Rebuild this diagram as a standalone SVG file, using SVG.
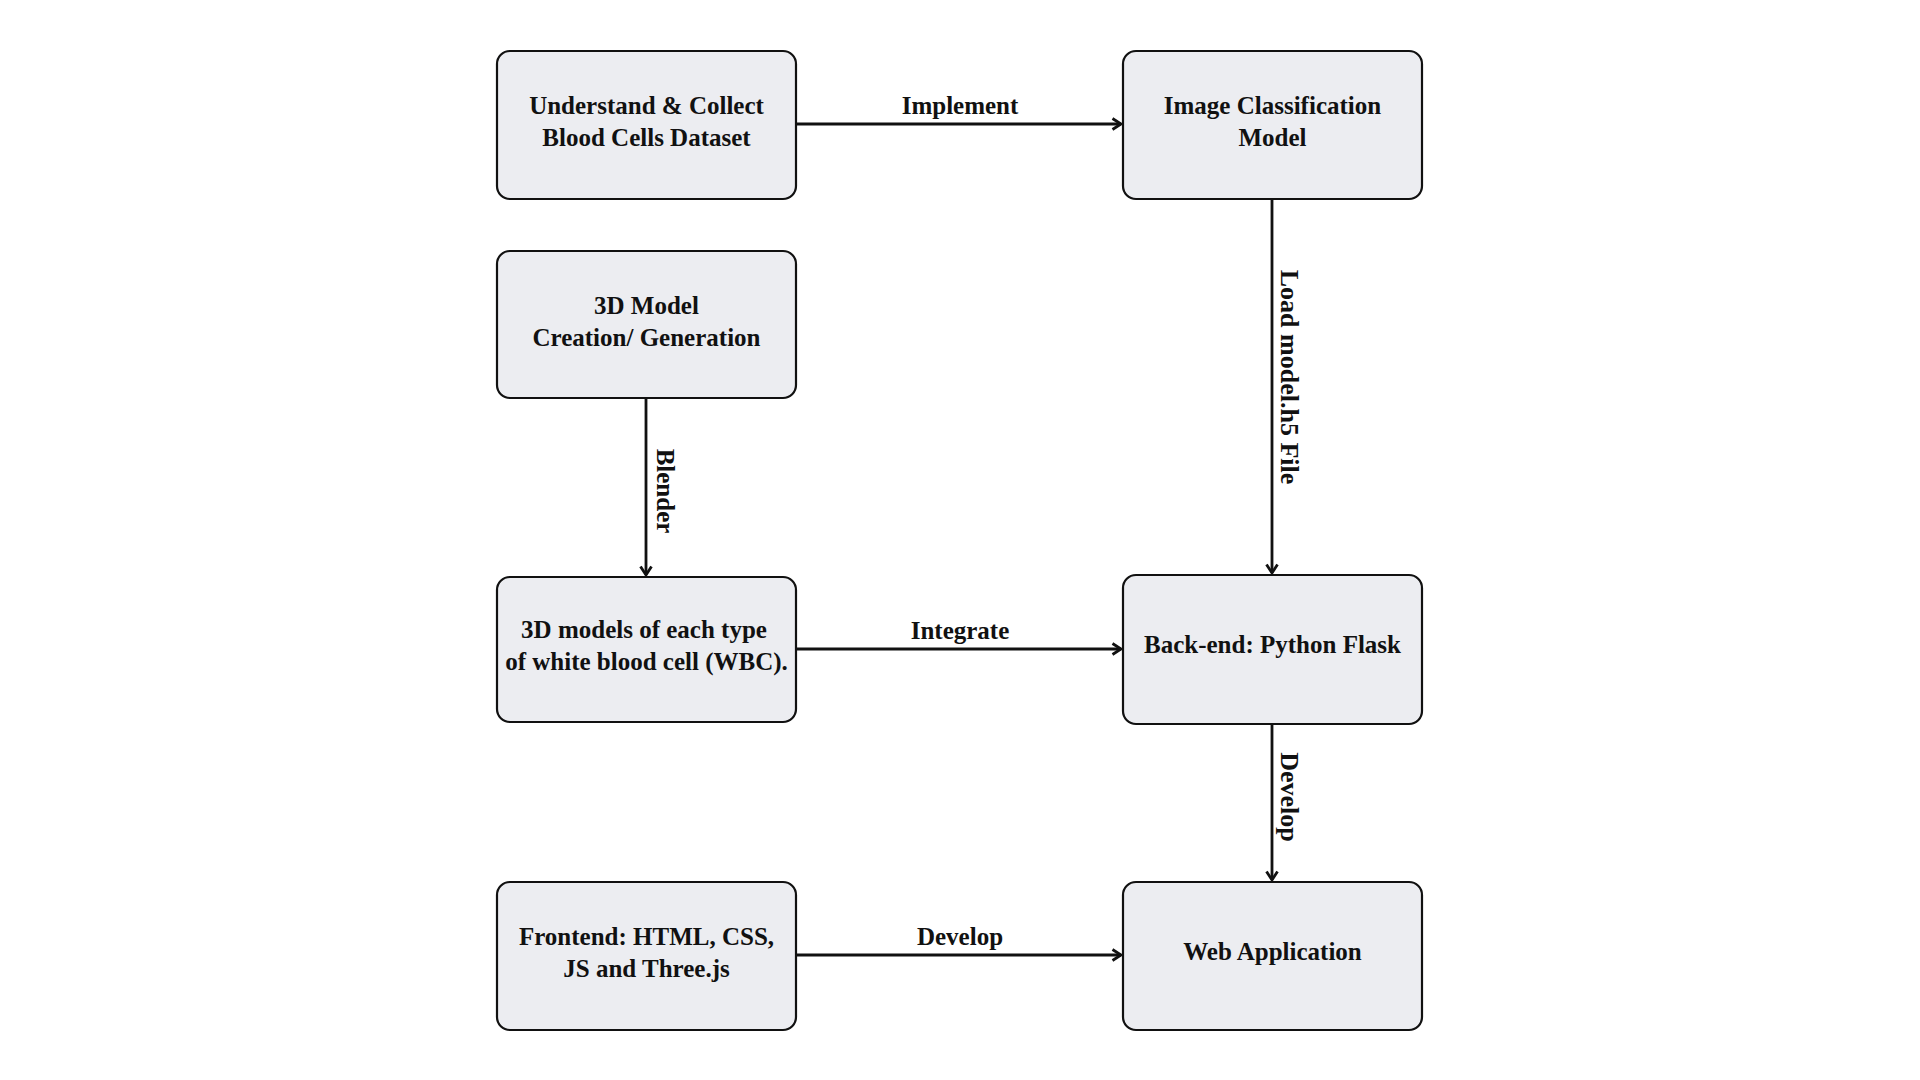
<svg xmlns="http://www.w3.org/2000/svg" width="1920" height="1080" viewBox="0 0 1920 1080">
<defs>
<style>
.box{fill:#ECEDF1;stroke:#111;stroke-width:2.2;}
.t{font-family:"Liberation Serif","Times New Roman",serif;font-weight:bold;font-size:25px;fill:#111;text-anchor:middle;}
.lbl{font-family:"Liberation Serif","Times New Roman",serif;font-weight:bold;font-size:25px;fill:#111;text-anchor:middle;}
.vl{font-size:26px;}
.c{stroke:#111;stroke-width:2.8;fill:none;marker-end:url(#ah);}
</style>
<marker id="ah" markerUnits="userSpaceOnUse" markerWidth="16" markerHeight="16" viewBox="-11 -8 13 16" refX="0" refY="0" orient="auto">
<path d="M-8.5,-5.5 L0,0 L-8.5,5.5" fill="none" stroke="#111" stroke-width="2.8"/>
</marker>
</defs>
<rect width="1920" height="1080" fill="#fff"/>
<g id="connectors">
<line class="c" x1="796" y1="124" x2="1121" y2="124"/>
<line class="c" x1="1272" y1="199" x2="1272" y2="573"/>
<line class="c" x1="646" y1="398" x2="646" y2="575"/>
<line class="c" x1="796" y1="649" x2="1121" y2="649"/>
<line class="c" x1="1272" y1="724" x2="1272" y2="880"/>
<line class="c" x1="796" y1="955" x2="1121" y2="955"/>
<text class="lbl" x="960" y="114">Implement</text>
<text class="lbl vl" transform="translate(1281,377) rotate(90)">Load model.h5 File</text>
<text class="lbl" transform="translate(657,491) rotate(90)">Blender</text>
<text class="lbl" x="960" y="639">Integrate</text>
<text class="lbl vl" transform="translate(1281,797) rotate(90)">Develop</text>
<text class="lbl" x="960" y="945">Develop</text>
</g>
<g id="n1">
<rect class="box" x="497" y="51" width="299" height="148" rx="13"/>
<text class="t" x="646.5" y="114">Understand &amp; Collect</text>
<text class="t" x="646.5" y="146">Blood Cells Dataset</text>
</g>
<g id="n2">
<rect class="box" x="1123" y="51" width="299" height="148" rx="13"/>
<text class="t" x="1272.5" y="114">Image Classification</text>
<text class="t" x="1272.5" y="146">Model</text>
</g>
<g id="n3">
<rect class="box" x="497" y="251" width="299" height="147" rx="13"/>
<text class="t" x="646.5" y="314">3D Model</text>
<text class="t" x="646.5" y="346">Creation/ Generation</text>
</g>
<g id="n4">
<rect class="box" x="497" y="577" width="299" height="145" rx="13"/>
<text class="t" x="644" y="638">3D models of each type</text>
<text class="t" x="646.5" y="670">of white blood cell (WBC).</text>
</g>
<g id="n5">
<rect class="box" x="1123" y="575" width="299" height="149" rx="13"/>
<text class="t" x="1272.5" y="653">Back-end: Python Flask</text>
</g>
<g id="n6">
<rect class="box" x="497" y="882" width="299" height="148" rx="13"/>
<text class="t" x="646.5" y="945">Frontend: HTML, CSS,</text>
<text class="t" x="646.5" y="977">JS and Three.js</text>
</g>
<g id="n7">
<rect class="box" x="1123" y="882" width="299" height="148" rx="13"/>
<text class="t" x="1272.5" y="960">Web Application</text>
</g>
</svg>
